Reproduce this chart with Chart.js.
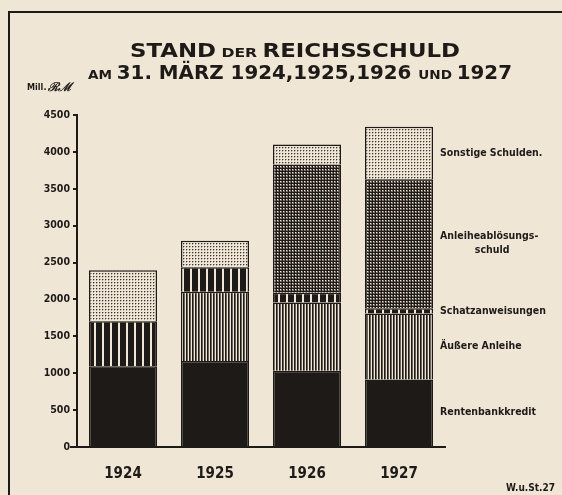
<!DOCTYPE html>
<html>
<head>
<meta charset="utf-8">
<script src="https://cdn.jsdelivr.net/npm/chart.js@4/dist/chart.umd.min.js"></script>
<style>
  html, body { margin: 0; padding: 0; background: #efe6d6; }
  #wrap { width: 562px; height: 495px; }
</style>
</head>
<body>
<div id="wrap"><canvas id="schuldChart" width="562" height="495"></canvas></div>
<script>
// Werte in Mill. RM (31. März)
const years = ['1924', '1925', '1926', '1927'];
const rentenbankkredit = [1095, 1165, 1035, 915];
const aeussereAnleihe = [null, 940, 925, 895];
const schatzanweisungen = [610, 330, 130, 70];
const anleiheabloesung = [null, null, 1740, 1750];
const sonstigeSchulden = [690, 360, 270, 710];
const yTicks = [0, 500, 1000, 1500, 2000, 2500, 3000, 3500, 4000, 4500];

const seriesNames = ['Rentenbankkredit', 'Äußere Anleihe', 'Schatzanweisungen', 'Anleiheablösungsschuld', 'Sonstige Schulden'];
const sideLabels = [['Rentenbankkredit'], ['Äußere Anleihe'], ['Schatzanweisungen'], ['Anleiheablösungs-', 'schuld'], ['Sonstige Schulden.']];

const ink = '#1d1a18';
const paper = '#efe6d6';

const canvas = document.getElementById('schuldChart');
const ctx = canvas.getContext('2d');

function makePattern(w, h, draw) {
    const c = document.createElement('canvas');
    c.width = w; c.height = h;
    const g = c.getContext('2d');
    g.fillStyle = paper;
    g.fillRect(0, 0, w, h);
    draw(g);
    return ctx.createPattern(c, 'repeat');
}

// Schraffuren wie im Original
const solidFill = ink;
const fineStripes = makePattern(3, 1, g => {
    g.fillStyle = ink; g.fillRect(0, 0, 1, 1);
    g.fillStyle = '#6b635b'; g.fillRect(1, 0, 1, 1);
});
const thickStripes = makePattern(8, 1, g => {
    g.fillStyle = ink; g.fillRect(0, 0, 6, 1);
});
const gridHatch = makePattern(3, 3, g => {
    g.fillStyle = ink; g.fillRect(0, 0, 3, 1); g.fillRect(0, 0, 1, 3);
    g.fillStyle = '#7a7169'; g.fillRect(2, 1, 1, 2); g.fillRect(1, 2, 1, 1);
});
const dotHatch = makePattern(3, 3, g => {
    g.fillStyle = '#3a3430'; g.fillRect(0, 0, 1, 1);
    g.fillStyle = '#b3a99e'; g.fillRect(1, 0, 1, 1); g.fillRect(0, 1, 1, 1);
});
const fills = [solidFill, fineStripes, thickStripes, gridHatch, dotHatch];
const seriesData = [rentenbankkredit, aeussereAnleihe, schatzanweisungen, anleiheabloesung, sonstigeSchulden];

function drawRich(c, parts, cx, baseline, targetW) {
    let natural = 0;
    parts.forEach(p => { c.font = 'bold ' + p.s + 'px "DejaVu Sans"'; natural += c.measureText(p.t).width; });
    const k = targetW / natural;
    c.save();
    c.translate(cx - targetW / 2, baseline);
    c.scale(k, 1);
    let x = 0;
    parts.forEach(p => {
        c.font = 'bold ' + p.s + 'px "DejaVu Sans"';
        c.fillText(p.t, x, 0);
        x += c.measureText(p.t).width;
    });
    c.restore();
}

const decorPlugin = {
    id: 'decor',
    beforeDraw(chart) {
        const c = chart.ctx;
        c.save();
        c.fillStyle = paper;
        c.fillRect(0, 0, chart.width, chart.height);
        c.strokeStyle = ink;
        c.lineWidth = 2;
        c.beginPath();
        c.moveTo(9, 495); c.lineTo(9, 12); c.lineTo(562, 12);
        c.stroke();
        c.restore();
    },
    afterDraw(chart) {
        const c = chart.ctx;
        const area = chart.chartArea;
        c.save();
        // Grundlinie etwas links über die Achse hinaus
        c.strokeStyle = ink;
        c.lineWidth = 2;
        c.beginPath();
        c.moveTo(area.left - 7, area.bottom);
        c.lineTo(area.left, area.bottom);
        c.stroke();

        c.fillStyle = ink;
        c.textBaseline = 'alphabetic';
        drawRich(c, [{ t: 'STAND', s: 19 }, { t: ' DER ', s: 13 }, { t: 'REICHSSCHULD', s: 19 }], 295, 57, 330);
        drawRich(c, [{ t: 'AM ', s: 13 }, { t: '31. MÄRZ 1924,1925,1926 ', s: 19 }, { t: 'UND ', s: 13 }, { t: '1927', s: 19 }], 300, 79, 424);

        c.font = 'bold 9px "DejaVu Sans Condensed"';
        c.textAlign = 'left';
        c.fillText('Mill.', 27, 90);
        c.font = 'italic bold 12px "DejaVu Serif"';
        c.fillText('ℛℳ', 48, 91);

        c.font = 'bold 10px "DejaVu Sans Condensed"';
        c.textAlign = 'right';
        c.fillText('W.u.St.27', 555, 491);

        // Beschriftung rechts neben der letzten Säule
        c.font = 'bold 10.5px "DejaVu Sans Condensed"';
        c.textAlign = 'left';
        c.textBaseline = 'middle';
        chart.data.datasets.forEach((ds, i) => {
            const bar = chart.getDatasetMeta(i).data[years.length - 1];
            if (!bar) return;
            const mid = (bar.y + bar.base) / 2;
            const lines = sideLabels[i];
            const x0 = area.right - 5;
            if (lines.length === 1) {
                c.fillText(lines[0], x0, mid);
            } else {
                const w = c.measureText(lines[0]).width;
                c.fillText(lines[0], x0, mid - 7);
                c.textAlign = 'center';
                c.fillText(lines[1], x0 + w / 2 + 3, mid + 7);
                c.textAlign = 'left';
            }
        });
        c.restore();
    }
};

new Chart(canvas, {
    type: 'bar',
    data: {
        labels: years,
        datasets: seriesNames.map((name, i) => ({
            label: name,
            data: seriesData[i],
            backgroundColor: fills[i],
            borderColor: ink,
            borderWidth: 1.5,
            barPercentage: 0.74,
            categoryPercentage: 1
        }))
    },
    options: {
        responsive: false,
        animation: false,
        layout: { padding: { top: 115, right: 117, left: 0, bottom: 0 } },
        plugins: {
            legend: { display: false },
            tooltip: { enabled: false },
            title: { display: false }
        },
        scales: {
            x: {
                stacked: true,
                grid: { display: false },
                border: { display: true, color: ink, width: 2 },
                ticks: { color: ink, padding: 10, font: { family: 'DejaVu Sans Condensed', weight: 'bold', size: 15 } },
                afterFit: s => { s.height = 48; }
            },
            y: {
                stacked: true,
                min: 0,
                max: 4500,
                afterBuildTicks: s => { s.ticks = yTicks.map(v => ({ value: v })); },
                grid: { drawOnChartArea: false, drawTicks: true, tickLength: 4, color: ink, lineWidth: 2 },
                border: { display: true, color: ink, width: 2 },
                ticks: {
                    color: ink,
                    padding: 3,
                    font: { family: 'DejaVu Sans Condensed', weight: 'bold', size: 10.5 },
                    callback: v => String(v)
                },
                afterFit: s => { s.width = 77; }
            }
        }
    },
    plugins: [decorPlugin]
});
</script>
</body>
</html>
